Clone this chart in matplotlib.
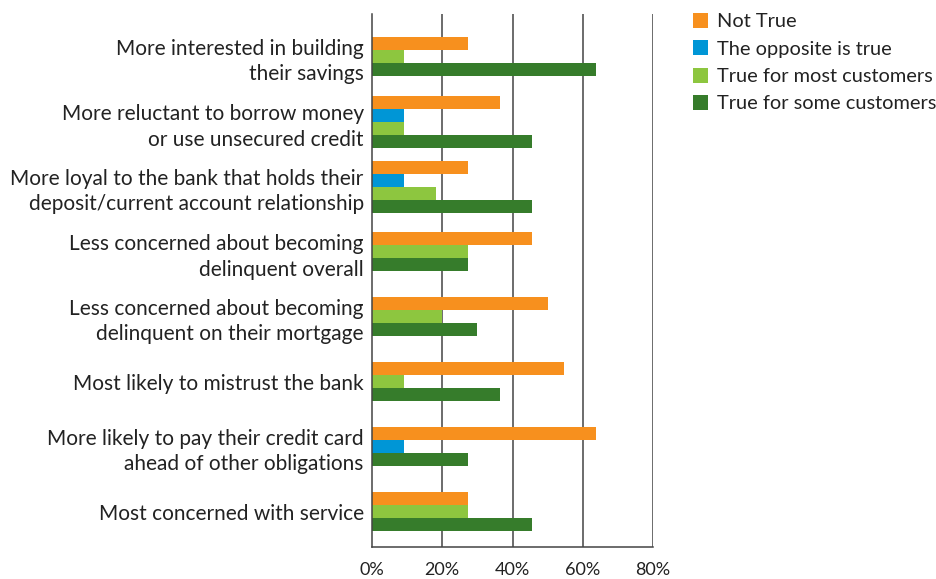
import matplotlib
matplotlib.use("Agg")
import matplotlib.pyplot as plt
from matplotlib.patches import Patch

categories = [
    "More interested in building\ntheir savings",
    "More reluctant to borrow money\nor use unsecured credit",
    "More loyal to the bank that holds their\ndeposit/current account relationship",
    "Less concerned about becoming\ndelinquent overall",
    "Less concerned about becoming\ndelinquent on their mortgage",
    "Most likely to mistrust the bank",
    "More likely to pay their credit card\nahead of other obligations",
    "Most concerned with service",
]
series_names = ["Not True", "The opposite is true",
                "True for most customers", "True for some customers"]
# None = response not given for that statement
not_true = [27.27, 36.36, 27.27, 45.45, 50.0, 54.55, 63.64, 27.27]
opposite = [None, 9.09, 9.09, None, None, None, 9.09, None]
most_customers = [9.09, 9.09, 18.18, 27.27, 20.0, 9.09, None, 27.27]
some_customers = [63.64, 45.45, 45.45, 27.27, 30.0, 36.36, 27.27, 45.45]
x_ticks = [0, 20, 40, 60, 80]
x_tick_labels = ["0%", "20%", "40%", "60%", "80%"]

colors = ["#F7901E", "#0096D6", "#8DC63F", "#367C2B"]
series = [not_true, opposite, most_customers, some_customers]

plt.rcParams["font.family"] = ["Lato", "DejaVu Sans"]
fig = plt.figure(figsize=(9.37, 5.79), dpi=100)
ax = fig.add_axes([372 / 937, 1 - 547 / 579, (653 - 372) / 937, (547 - 14) / 579])

bar_h = 0.2
for gi in range(len(categories)):
    present = [(si, s[gi]) for si, s in enumerate(series) if s[gi] is not None]
    n = len(present)
    for k, (si, v) in enumerate(present):
        y = gi + (k - (n - 1) / 2) * bar_h
        ax.barh(y, v, height=bar_h, color=colors[si], linewidth=0)

ax.set_ylim(7.54, -0.66)
ax.set_xlim(0, 80)
ax.set_xticks(x_ticks)
ax.set_xticklabels(x_tick_labels, fontsize=13, color="#222222")
ax.set_yticks(range(len(categories)))
ax.set_yticklabels(categories, fontsize=15.0, color="#222222", linespacing=1.35)
ax.tick_params(axis="both", length=0)
ax.tick_params(axis="x", pad=11)
ax.tick_params(axis="y", pad=6)

for x in x_ticks[1:-1]:
    ax.axvline(x, color="#444444", linewidth=1.1, zorder=0)
for side in ["top", "right"]:
    ax.spines[side].set_visible(False)
ax.axvline(80, color="#444444", linewidth=1.1, zorder=0)
ax.spines["left"].set_color("#444444")
ax.spines["bottom"].set_color("#444444")
ax.spines["left"].set_linewidth(1.1)
ax.spines["bottom"].set_linewidth(1.1)

handles = [Patch(facecolor=c, edgecolor="none") for c in colors]
fig.legend(handles, series_names, loc="upper left",
           bbox_to_anchor=(675 / 937, 1 + 5 / 579), frameon=False,
           fontsize=14.4, handlelength=0.76, handleheight=0.76,
           handletextpad=0.45, labelspacing=0.5, labelcolor="#222222")

fig.savefig("out.png", dpi=100)
